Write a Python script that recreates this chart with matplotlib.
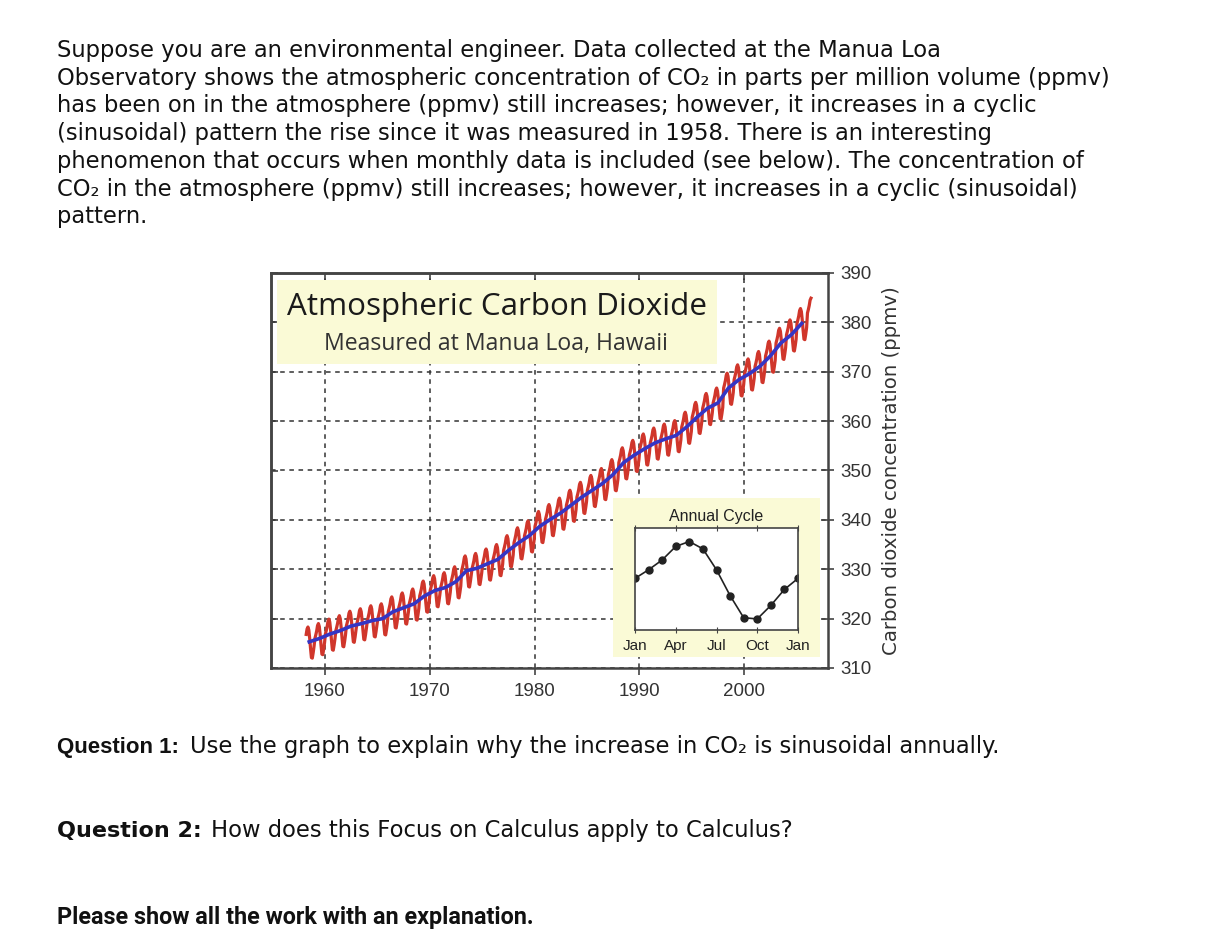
import matplotlib
matplotlib.use("Agg")
import matplotlib.pyplot as plt
from matplotlib.patches import Rectangle
import numpy as np

# --- data ---
years = list(range(1958, 2007))
annual_mean = [315.3, 316.0, 316.9, 317.6, 318.5, 319.0, 319.6, 320.0, 321.4, 322.2,
               323.0, 324.6, 325.7, 326.3, 327.5, 329.7, 330.2, 331.1, 332.0, 333.8,
               335.4, 336.8, 338.7, 340.1, 341.4, 343.0, 344.6, 346.0, 347.4, 349.2,
               351.6, 353.1, 354.4, 355.6, 356.4, 357.1, 358.8, 360.8, 362.6, 363.7,
               366.7, 368.4, 369.6, 371.1, 373.2, 375.8, 377.5, 379.8, 381.9]
# seasonal offset (ppmv) per month, from the "Annual Cycle" inset
seasonal_cycle = [0.0, 0.7, 1.5, 2.6, 3.0, 2.4, 0.7, -1.4, -3.2, -3.3, -2.2, -0.9]
first_month = 2   # record starts March 1958
last_month = 4    # ends May 2006
cycle_labels = ["Jan", "Apr", "Jul", "Oct", "Jan"]
year_ticks = [1960, 1970, 1980, 1990, 2000]
ppmv_ticks = [310, 320, 330, 340, 350, 360, 370, 380, 390]

intro_lines = [
    "Suppose you are an environmental engineer. Data collected at the Manua Loa",
    "Observatory shows the atmospheric concentration of CO\u2082 in parts per million volume (ppmv)",
    "has been on in the atmosphere (ppmv) still increases; however, it increases in a cyclic",
    "(sinusoidal) pattern the rise since it was measured in 1958. There is an interesting",
    "phenomenon that occurs when monthly data is included (see below). The concentration of",
    "CO\u2082 in the atmosphere (ppmv) still increases; however, it increases in a cyclic (sinusoidal)",
    "pattern.",
]
questions = [
    ("Question 1:", "Use the graph to explain why the increase in CO\u2082 is sinusoidal annually."),
    ("Question 2:", "How does this Focus on Calculus apply to Calculus?"),
]
closing = "Please show all the work with an explanation."

# monthly series = yearly level + seasonal offset
t_month, co2_month = [], []
for i, y in enumerate(years):
    m0 = first_month if y == years[0] else 0
    m1 = last_month if y == years[-1] else 11
    for m in range(m0, m1 + 1):
        t_month.append(y + (m + 0.5) / 12)
        co2_month.append(annual_mean[i] + seasonal_cycle[m])
t_year = [y + 0.5 for y in years[:-1]]
co2_year = annual_mean[:-1]

W, H = 1228, 948
fig = plt.figure(figsize=(W / 100, H / 100), dpi=100)


def fx(px):
    return px / W


def fy(py):
    return 1 - py / H


# paragraph text
for i, line in enumerate(intro_lines):
    fig.text(fx(57), fy(57 + 27.7 * i), line, fontsize=16.3, family="DejaVu Sans",
             va="baseline", color="#111111")

# main chart
ax = fig.add_axes([fx(271), fy(668), (828 - 271) / W, (668 - 273) / H])
ax.set_xlim(1954.85, 2008.0)
ax.set_ylim(310, 390)
ax.set_axisbelow(True)
ax.set_xticks(year_ticks)
ax.set_yticks(ppmv_ticks)
ax.grid(True, color="#333333", linestyle=(0, (3, 3)), linewidth=1.1)
ax.yaxis.tick_right()
ax.yaxis.set_label_position("right")
ax.tick_params(axis="y", direction="inout", length=8, width=1.2, color="#444444",
               labelsize=13.5, labelcolor="#333333", pad=5, left=False, right=True)
ax.tick_params(axis="x", direction="out", length=5, width=1.2, color="#444444",
               labelsize=13.5, labelcolor="#333333", pad=6, top=False)
for lab in ax.get_xticklabels() + ax.get_yticklabels():
    lab.set_family("Liberation Sans")
for s in ax.spines.values():
    s.set_color("#444444")
    s.set_linewidth(1.8)
ax.set_ylabel("Carbon dioxide concentration (ppmv)", fontsize=14.2, family="DejaVu Sans",
              color="#333333", labelpad=7)

# inward ticks on top and left
sec_top = ax.secondary_xaxis("top")
sec_top.set_xticks(year_ticks)
sec_top.set_xticklabels([])
sec_top.tick_params(direction="in", length=5, width=1.2, color="#444444")
sec_top.spines["top"].set_color("#444444")
sec_top.spines["top"].set_linewidth(1.8)
sec_left = ax.secondary_yaxis("left")
sec_left.set_yticks(ppmv_ticks)
sec_left.set_yticklabels([])
sec_left.tick_params(direction="in", length=5, width=1.2, color="#444444")
sec_left.spines["left"].set_color("#444444")
sec_left.spines["left"].set_linewidth(1.8)

ax.plot(t_month, co2_month, color="#d0362b", linewidth=2.3, zorder=2)
ax.plot(t_year, co2_year, color="#3535c4", linewidth=2.6, zorder=3)

# title box
ax.add_patch(Rectangle((0.011, 0.770), 0.79, 0.212, transform=ax.transAxes,
                       facecolor="#fafad6", edgecolor="none", zorder=1))
ax.text(0.0287, 0.894, "Atmospheric Carbon Dioxide", transform=ax.transAxes,
        fontsize=22.6, family="Open Sans", color="#1a1a1a", va="baseline", ha="left", zorder=4)
ax.text(0.404, 0.805, "Measured at Manua Loa, Hawaii", transform=ax.transAxes,
        fontsize=16.6, family="Open Sans", color="#333333", va="baseline", ha="center", zorder=4)

# inset background
ax.add_patch(Rectangle((fx(613), fy(657)), 207 / W, 159 / H, transform=fig.transFigure,
                       facecolor="#fafad6", edgecolor="none", zorder=5, clip_on=False))

# inset: annual cycle
ax_in = fig.add_axes([fx(635), fy(630), 163 / W, 102 / H])
cycle_x = list(range(13))
cycle_y = seasonal_cycle + [seasonal_cycle[0]]
ax_in.plot(cycle_x, cycle_y, color="#222222", linewidth=1.2, marker="o", markersize=5)
ax_in.set_xlim(0, 12)
ax_in.set_ylim(-4.2, 4.1)
ax_in.set_xticks([0, 3, 6, 9, 12])
ax_in.set_xticklabels(cycle_labels, family="Liberation Sans", fontsize=11, color="#222222")
ax_in.set_yticks([])
ax_in.tick_params(axis="x", direction="inout", top=True, length=5, color="#444444", pad=4)
for s in ax_in.spines.values():
    s.set_color("#444444")
    s.set_linewidth(1.2)
ax_in.set_title("Annual Cycle", family="Liberation Sans", fontsize=11.5, color="#222222", pad=5)

# questions (the two bold labels use different faces in the original)
q_style = [("Liberation Sans", 16.0, 190, 753), ("DejaVu Sans", 16.0, 211, 837)]
for (bold, rest), (bfam, bsize, rest_x, base) in zip(questions, q_style):
    fig.text(fx(57), fy(base), bold, fontsize=bsize, family=bfam,
             weight="bold", va="baseline", color="#111111")
    fig.text(fx(rest_x), fy(base), rest, fontsize=16.3, family="DejaVu Sans",
             va="baseline", color="#111111")

fig.text(fx(57), fy(924), closing, fontsize=16.8, weight="bold",
         family=["Liberation Sans Narrow", "Roboto"], va="baseline", color="#111111")

fig.savefig("out.png", dpi=100)
